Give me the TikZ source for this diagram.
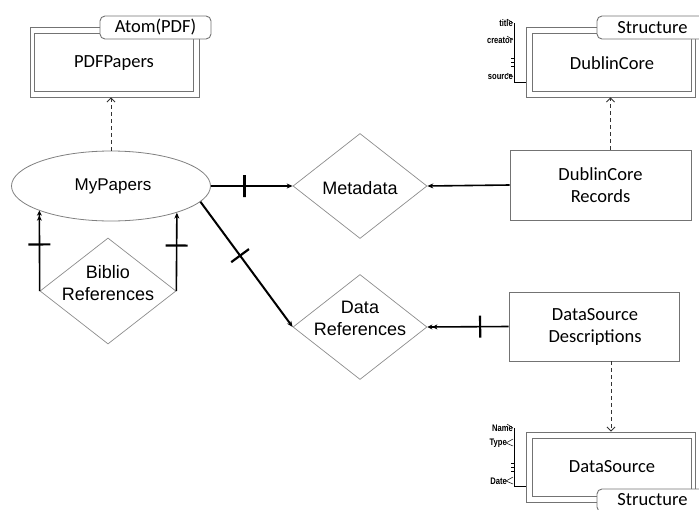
\documentclass[tikz,border=0pt]{standalone}
\usepackage{fontspec}
\setmainfont{Liberation Sans}
\newfontfamily\calibri{Carlito}
\usetikzlibrary{shapes.geometric,arrows.meta}

\begin{document}
\begin{tikzpicture}[x=1pt,y=-1pt,
  boxline/.style={draw=black!55, line width=0.9pt},
  outerbox/.style={boxline, rectangle, inner sep=0pt, minimum width=169pt, minimum height=70pt},
  innerbox/.style={boxline, rectangle, inner sep=0pt, minimum width=159pt, minimum height=58pt},
  tagbox/.style={boxline, rectangle, rounded corners=5pt, fill=white, inner sep=0pt,
    minimum width=111pt, minimum height=23pt, font=\calibri\fontsize{18.5}{22}\selectfont},
  cal/.style={font=\calibri\fontsize{18.5}{22}\selectfont, align=center, inner sep=0pt},
  ari/.style={font=\fontsize{18}{22}\selectfont, align=center, inner sep=0pt},
  recbox/.style={boxline, rectangle, inner sep=0pt},
  diam/.style={draw=black!45, line width=0.7pt, diamond, inner sep=0pt,
    minimum width=134pt, minimum height=105pt},
  rel/.style={line width=1.6pt, -{Stealth[length=6pt,width=5pt]}},
  relmany/.style={line width=1.6pt, -{Stealth[length=5pt,width=5pt]Stealth[length=5pt,width=5pt]}},
  bar/.style={sloped, draw, line width=2.2pt, inner sep=0pt, minimum width=0pt, minimum height=22pt},
  dep/.style={draw=black!80, line width=0.8pt, dash pattern=on 4pt off 3pt,
    -{Straight Barb[length=4pt,width=8pt]}},
  attr/.style={font=\bfseries\fontsize{9.5}{10}\selectfont, inner sep=0pt, anchor=east},
  attrline/.style={line width=0.9pt},
]
\useasboundingbox (0,0) rectangle (699,509);
\clip (0,0) rectangle (699,509);

% ---- PDFPapers (Atom) ----
\node[outerbox] (pdfo) at (114.5,62) {};
\node[innerbox] (pdfi) at (113.5,62) {};
\node[tagbox] (pdftag) at (155.5,27.5) {Atom(PDF)};
\node[cal] (pdfpapers) at (114,63) {PDFPapers};

% ---- DublinCore structure ----
\node[outerbox] (dco) at (610.5,62) {};
\node[innerbox] (dci) at (611.5,62) {};
\node[tagbox] (dctag) at (652.5,27.5) {Structure};
\node[cal] (dublincore) at (612,63) {DublinCore};
% attribute list
\node[attr] (a1) at (513,23) {\scalebox{0.8}[1]{title}};
\node[attr] (a2) at (513,40) {\scalebox{0.8}[1]{creator}};
\node[attr] (a3) at (513,77) {\scalebox{0.8}[1]{source}};
\draw[attrline] (514,23) -- (514,82) -- (dco.west |- 0,82);
\foreach \yy in {23,40,77} \draw[line width=0.5pt] (513,\yy) -- (507,\yy-4);
\foreach \yy in {58,62,66} \draw[line width=0.6pt] (511,\yy) -- (514,\yy);

% ---- DataSource structure ----
\node[outerbox] (dso) at (611,467) {};
\node[innerbox] (dsi) at (611.5,467) {};
\node[tagbox] (dstag) at (652.5,500.5) {};
\node[cal] (dstagtext) at (652.5,499.5) {Structure};
\node[cal] (datasource) at (612,467) {DataSource};
\node[attr] (b1) at (513,428) {\scalebox{0.8}[1]{Name}};
\node[attr] (b2) at (507,443) {\scalebox{0.8}[1]{Type}};
\node[attr] (b3) at (507,481) {\scalebox{0.8}[1]{Date}};
\draw[attrline] (514,428) -- (514,486) -- (dso.west |- 0,486);
\draw[line width=0.5pt] (513,428) -- (507,424);
\foreach \yy in {443,481} \draw[line width=0.5pt] (513,\yy-4) -- (506,\yy) -- (513,\yy+3);
\foreach \yy in {463,467,471} \draw[line width=0.6pt] (511,\yy) -- (514,\yy);

% ---- Entity and relationships ----
\node[ellipse, draw=black!50, line width=0.8pt, minimum width=199pt, minimum height=70pt,
  inner sep=0pt] (mp) at (111,186) {};
\node[ari, font=\fontsize{17}{20}\selectfont] (mptext) at (113,186) {MyPapers};

\node[diam, minimum width=136pt, minimum height=106pt] (bib) at (108,291) {};
\node[ari] (bibtext) at (108,283) {Biblio\\References};

\node[diam] (meta) at (360,186) {};
\node[ari] (metatext) at (360,188) {Metadata};

\node[diam] (dref) at (360,327) {};
\node[ari] (dreftext) at (360,318) {Data\\References};

\node[recbox, minimum width=181pt, minimum height=70pt] (dcr) at (600.5,185) {};
\node[cal] (dcrtext) at (600.5,185) {DublinCore\\Records};

\node[recbox, minimum width=170pt, minimum height=69pt] (dsd) at (594,326.5) {};
\node[cal] (dsdtext) at (595,327) {DataSource\\Descriptions};

% ---- connectors ----
\draw[relmany] (bib.west) -- node[bar, pos=0.58] {} (mp.199);
\draw[rel] (bib.east) -- node[bar, pos=0.58] {} (mp.338);
\draw[rel] (mp.east) -- node[bar, pos=0.41] {} (meta.west);
\draw[rel, line width=2pt] (mp.350) -- node[bar, pos=0.43] {} (dref.west);
\draw[rel] (dcr.west) -- (meta.east);
\draw[relmany] (dsd.west) -- node[bar, pos=0.35] {} (dref.east);

\draw[dep] (mp.north) -- (mp.north |- pdfo.south);
\draw[dep] (dco.south |- dcr.north) -- (dco.south);
\draw[dep] (dso.north |- dsd.south) -- (dso.north);
\end{tikzpicture}
\end{document}
